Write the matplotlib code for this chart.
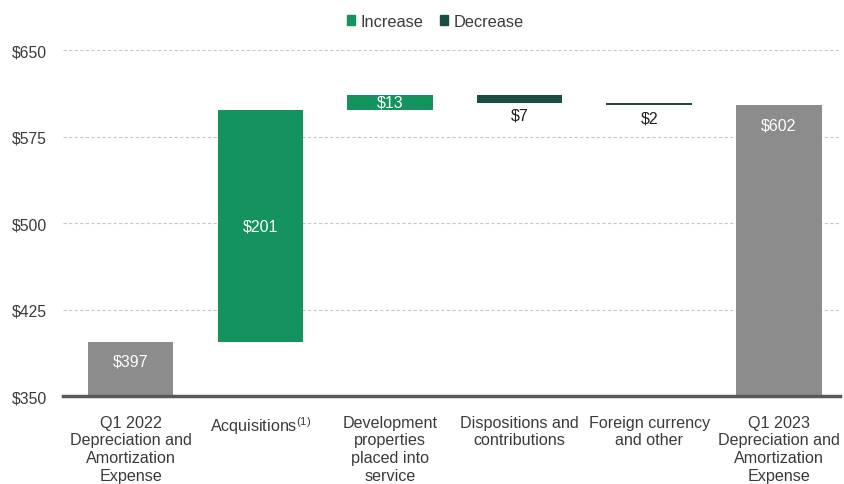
import matplotlib.pyplot as plt
from matplotlib.patches import Patch
import matplotlib as mpl

mpl.rcParams['font.family'] = ['Liberation Sans', 'DejaVu Sans']
mpl.rcParams['mathtext.fontset'] = 'custom'
mpl.rcParams['mathtext.rm'] = 'Liberation Sans'
mpl.rcParams['mathtext.it'] = 'Liberation Sans'

categories = ["Q1 2022\nDepreciation and\nAmortization\nExpense",
              "Acquisitions$^{(1)}$",
              "Development\nproperties\nplaced into\nservice",
              "Dispositions and\ncontributions",
              "Foreign currency\nand other",
              "Q1 2023\nDepreciation and\nAmortization\nExpense"]
values = [397, 201, 13, -7, -2, 602]
kinds = ["total", "delta", "delta", "delta", "delta", "total"]
yticks = [350, 425, 500, 575, 650]

c_total = "#8c8c8c"
c_inc = "#14935f"
c_dec = "#1b4d45"
txt = "#3a3a3a"

fig = plt.figure(figsize=(8.44, 4.85), dpi=100)
ax = fig.add_axes([0.075, 0.1814, 0.92, 0.7134])

running = 0
for i, (v, k) in enumerate(zip(values, kinds)):
    if k == "total":
        bottom, height, color = 0, v, c_total
        running = v
        ax.bar(i, height, bottom=bottom, width=0.66, color=color, zorder=2)
        ax.annotate(f"${v}", (i, v), xytext=(0, -8.5), textcoords="offset points",
                    ha="center", va="top", color="white", fontsize=11.5)
    else:
        if v >= 0:
            bottom, height, color = running, v, c_inc
        else:
            bottom, height, color = running + v, -v, c_dec
        ax.bar(i, height, bottom=bottom, width=0.66, color=color, zorder=2)
        if v > 0:
            ax.text(i, bottom + height / 2, f"${abs(v)}", ha="center", va="center",
                    color="white", fontsize=11.5)
        else:
            ax.annotate(f"${abs(v)}", (i, bottom), xytext=(0, -3.5), textcoords="offset points",
                        ha="center", va="top", color="#202020", fontsize=11.5)
        running += v

ax.set_ylim(350, 650)
ax.set_xlim(-0.52, 5.47)
ax.set_yticks(yticks)
ax.set_yticklabels([f"${t}" for t in yticks], color=txt, fontsize=11.3)
ax.set_xticks(range(len(categories)))
ax.set_xticklabels(categories, color=txt, fontsize=11.6, va="top", linespacing=1.22)
ax.tick_params(axis="both", length=0)
ax.tick_params(axis="x", pad=13.5)
ax.tick_params(axis="y", pad=12)
for s in ["top", "right", "left"]:
    ax.spines[s].set_visible(False)
ax.spines["bottom"].set_color("#595959")
ax.spines["bottom"].set_linewidth(2.5)
ax.spines["bottom"].set_zorder(3)
ax.yaxis.grid(True, linestyle=(0, (3, 2)), color="#c8c8c8", linewidth=0.8, zorder=0)
ax.set_axisbelow(True)

handles = [Patch(color=c_inc, label="Increase"), Patch(color=c_dec, label="Decrease")]
fig.legend(handles=handles, loc="upper center", bbox_to_anchor=(0.516, 1.0), ncol=2,
           frameon=False, fontsize=11.8, handlelength=0.5, handleheight=0.5,
           handletextpad=0.35, columnspacing=1.0, labelcolor=txt)

fig.savefig("out.png", dpi=100)
